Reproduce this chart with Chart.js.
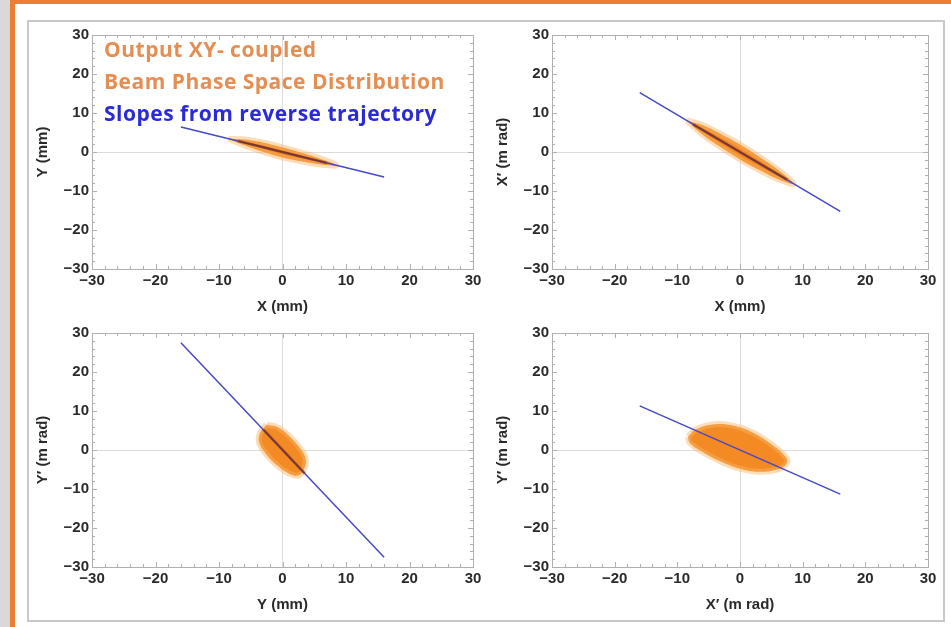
<!DOCTYPE html>
<html>
<head>
<meta charset="utf-8">
<script src="https://cdn.jsdelivr.net/npm/chart.js@4/dist/chart.umd.min.js"></script>
<style>
  body { margin: 0; width: 951px; height: 627px; position: relative; background: #fff; overflow: hidden; }
  .abs { position: absolute; }
  .plot { position: absolute; }
  #legend { position: absolute; left: 104px; top: 33px; font: bold 21px "Open Sans", sans-serif; line-height: 32px; white-space: nowrap; letter-spacing: 0.5px; }
</style>
</head>
<body>
<div class="abs" style="left:0;top:0;width:951px;height:4px;background:#ed7d31"></div>
<div class="abs" style="left:0;top:0;width:10px;height:627px;background:#d9d9d9"></div>
<div class="abs" style="left:10px;top:0;width:5px;height:627px;background:#ed7d31"></div>
<div class="abs" style="left:27px;top:20px;width:914px;height:598px;border:2px solid #c8c8c8"></div>

<div class="plot" style="left:30px;top:22px;width:455px;height:294px"><canvas id="c1"></canvas></div>
<div class="plot" style="left:490px;top:22px;width:450px;height:294px"><canvas id="c2"></canvas></div>
<div class="plot" style="left:30px;top:320px;width:455px;height:294px"><canvas id="c3"></canvas></div>
<div class="plot" style="left:490px;top:320px;width:450px;height:294px"><canvas id="c4"></canvas></div>

<div id="legend">
  <div style="color:#e68d52">Output XY- coupled</div>
  <div style="color:#e68d52">Beam Phase Space Distribution</div>
  <div style="color:#2a2ad8">Slopes from reverse trajectory</div>
</div>

<script>
// axis range shared by all four panels
const axisMin = -30;
const axisMax = 30;
const axisStep = 10;

// X vs Y
const xyCloudX = [-8.5, -6, -3, 0, 3, 6, 8.5, 6, 3, 0, -3, -6, -8.5];
const xyCloudY = [3.4, 3.2, 2.4, 1.2, -0.2, -1.7, -3.4, -3.2, -2.4, -1.4, 0.0, 1.7, 3.4];
const xyLineX = [-16, 16];
const xyLineY = [6.4, -6.4];
const xyCoreX = [-7, 7];
const xyCoreY = [2.8, -2.8];

// X vs X'
const xxpCloudX = [-8.5, -6, -3, 0, 3, 6, 8.5, 6, 3, 0, -3, -6, -8.5];
const xxpCloudY = [8.1, 6.9, 4.55, 1.9, -1.15, -4.5, -8.1, -6.9, -4.55, -1.9, 1.15, 4.5, 8.1];
const xxpLineX = [-16, 16];
const xxpLineY = [15.2, -15.2];
const xxpCoreX = [-7.5, 7.5];
const xxpCoreY = [7.1, -7.1];

// Y vs Y'
const yypCloudX = [-2.5, -1, 0.8, 2.5, 3.6, 3.5, 2.6, 1.0, -0.8, -2.6, -3.7, -3.5, -2.5];
const yypCloudY = [6.5, 6.0, 4.0, 1.0, -2.0, -4.5, -6.5, -6.0, -4.0, -1.0, 2.0, 4.5, 6.5];
const yypLineX = [-16, 16];
const yypLineY = [27.5, -27.5];
const yypCoreX = [-3, 3.5];
const yypCoreY = [5.2, -6.0];

// X' vs Y'
const xpypCloudX = [-8.3, -7, -4, -1, 2, 5, 7.4, 7.4, 6, 3, 0, -3, -6, -8, -8.3];
const xpypCloudY = [3.4, 5.3, 6.6, 6.2, 4.5, 1.5, -2.0, -3.6, -5.0, -5.6, -4.8, -3.0, -0.5, 1.8, 3.4];
const xpypLineX = [-16, 16];
const xpypLineY = [11.3, -11.3];

const xTitles = ['X (mm)', 'X (mm)', 'Y (mm)', 'X\u2032 (m rad)'];
const yTitles = ['Y (mm)', 'X\u2032 (m rad)', 'Y\u2032 (m rad)', 'Y\u2032 (m rad)'];

const tickFont = { family: 'Liberation Sans', weight: 'bold', size: 15 };
const titleFont = { family: 'Liberation Sans', weight: 'bold', size: 15 };
const frameColor = '#b0b0b0';

function pts(xs, ys) {
  return xs.map((x, i) => ({ x: x, y: ys[i] }));
}

function tickLabel(v) {
  return v < 0 ? '\u2212' + Math.abs(v) : '' + v;
}

// small inward ticks on all four sides of the frame
const frameTicks = {
  id: 'frameTicks',
  beforeDatasetsDraw(chart) {
    const { left, right, top, bottom } = chart.chartArea;
    const sx = chart.scales.x, sy = chart.scales.y;
    const ctx = chart.ctx;
    ctx.save();
    ctx.strokeStyle = frameColor;
    ctx.lineWidth = 1;
    ctx.beginPath();
    for (let v = axisMin; v <= axisMax; v += 2) {
      const len = v % axisStep === 0 ? 5 : 3;
      const px = Math.round(sx.getPixelForValue(v)) + 0.5;
      ctx.moveTo(px, bottom); ctx.lineTo(px, bottom - len);
      ctx.moveTo(px, top); ctx.lineTo(px, top + len);
      const py = Math.round(sy.getPixelForValue(v)) + 0.5;
      ctx.moveTo(left, py); ctx.lineTo(left + len, py);
      ctx.moveTo(right, py); ctx.lineTo(right - len, py);
    }
    ctx.stroke();
    ctx.restore();
  }
};

function makePlot(id, cloudX, cloudY, lineX, lineY, coreX, coreY, xTitle, yTitle) {
  const datasets = [
    {
      data: pts(cloudX, cloudY), showLine: true, fill: 'shape', tension: 0.4,
      backgroundColor: 'rgb(243,138,36)', borderColor: 'rgba(250,180,100,0.45)', borderWidth: 6,
      pointRadius: 0, order: 3
    },
    {
      data: pts(lineX, lineY), showLine: true, borderColor: '#4848c4', borderWidth: 1.5,
      pointRadius: 0, order: 2
    }
  ];
  if (coreX) {
    datasets.push({
      data: pts(coreX, coreY), showLine: true, borderColor: 'rgba(130,45,15,0.7)', borderWidth: 2.5,
      pointRadius: 0, order: 1
    });
  }
  return new Chart(document.getElementById(id), {
    type: 'scatter',
    data: { datasets: datasets },
    plugins: [frameTicks],
    options: {
      responsive: true,
      maintainAspectRatio: false,
      animation: false,
      layout: { padding: { top: 13, right: 12, left: 0, bottom: 0 } },
      plugins: { legend: { display: false }, tooltip: { enabled: false } },
      scales: {
        x: {
          type: 'linear', min: axisMin, max: axisMax,
          ticks: { stepSize: axisStep, callback: tickLabel, font: tickFont, color: '#2a2a2a', padding: 3, maxRotation: 0, autoSkip: false },
          grid: { color: c => (c.tick && c.tick.value === 0 ? '#dcdcdc' : 'rgba(0,0,0,0)'), drawTicks: false },
          border: { color: frameColor, width: 1 },
          title: { display: true, text: xTitle, font: titleFont, color: '#2a2a2a', padding: { top: 0, bottom: 0 } },
          afterFit: s => { s.height = 47; }
        },
        y: {
          type: 'linear', min: axisMin, max: axisMax,
          ticks: { stepSize: axisStep, callback: tickLabel, font: tickFont, color: '#2a2a2a', padding: 3 },
          grid: { color: c => (c.tick && c.tick.value === 0 ? '#dcdcdc' : 'rgba(0,0,0,0)'), drawTicks: false },
          border: { color: frameColor, width: 1 },
          title: { display: true, text: yTitle, font: titleFont, color: '#2a2a2a', padding: { top: 4, bottom: 4 } },
          afterFit: s => { s.width = 62; }
        },
        x2: {
          type: 'linear', position: 'top', min: axisMin, max: axisMax,
          ticks: { display: false }, grid: { display: false, drawTicks: false },
          border: { color: frameColor, width: 1 },
          afterFit: s => { s.height = 0; }
        },
        y2: {
          type: 'linear', position: 'right', min: axisMin, max: axisMax,
          ticks: { display: false }, grid: { display: false, drawTicks: false },
          border: { color: frameColor, width: 1 },
          afterFit: s => { s.width = 0; }
        }
      }
    }
  });
}

makePlot('c1', xyCloudX, xyCloudY, xyLineX, xyLineY, xyCoreX, xyCoreY, xTitles[0], yTitles[0]);
makePlot('c2', xxpCloudX, xxpCloudY, xxpLineX, xxpLineY, xxpCoreX, xxpCoreY, xTitles[1], yTitles[1]);
makePlot('c3', yypCloudX, yypCloudY, yypLineX, yypLineY, yypCoreX, yypCoreY, xTitles[2], yTitles[2]);
makePlot('c4', xpypCloudX, xpypCloudY, xpypLineX, xpypLineY, null, null, xTitles[3], yTitles[3]);
</script>
</body>
</html>
